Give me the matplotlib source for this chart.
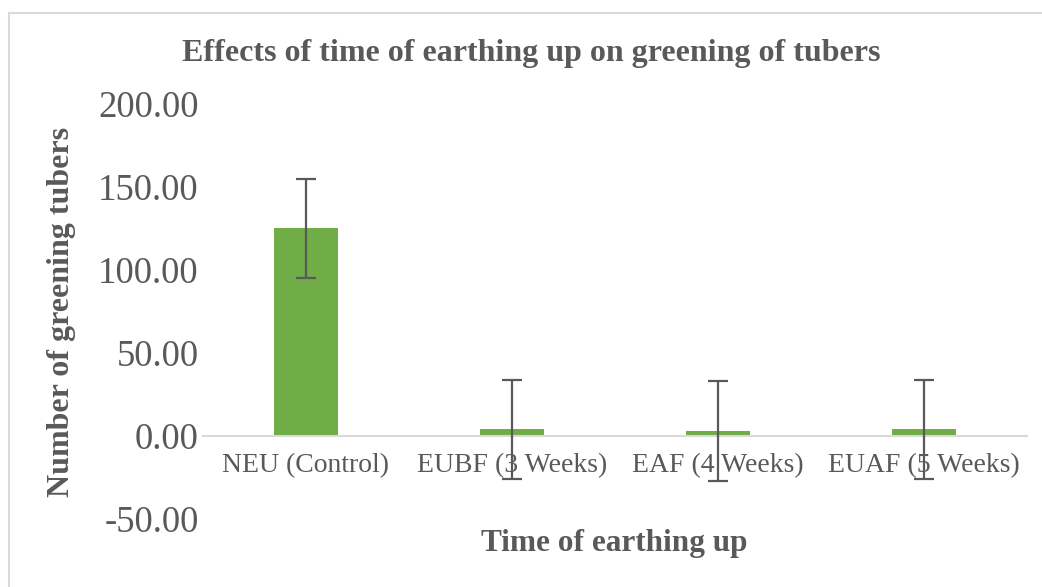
import numpy as np
import matplotlib
matplotlib.use('Agg')
import matplotlib.pyplot as plt
from matplotlib.patches import Rectangle

categories = ['NEU (Control)', 'EUBF (3 Weeks)', 'EAF (4 Weeks)', 'EUAF (5 Weeks)']
means = [125.0, 4.0, 3.0, 4.0]
errors = [30.0, 30.0, 30.0, 30.0]
yticks = [-50, 0, 50, 100, 150, 200]

plt.rcParams['font.family'] = ['Liberation Serif', 'DejaVu Serif']
txt = '#595959'

fig = plt.figure(figsize=(10.42, 5.87), dpi=100)
# outer chart border (light grey)
fig.add_artist(Rectangle((9/1042, -0.05), 1.1, 1 - 13/587 + 0.05,
                         transform=fig.transFigure, fill=False,
                         edgecolor='#d9d9d9', linewidth=1.5))

ax = fig.add_axes([203/1042, 1 - 519/587, (1027-203)/1042, (519-104)/587])
x = np.arange(len(categories))
ax.bar(x, means, width=0.315, color='#70ad47', zorder=2)
ax.errorbar(x, means, yerr=errors, fmt='none', ecolor='#595959',
            elinewidth=1.6, capsize=7, capthick=1.6, zorder=4)

ax.set_xlim(-0.5, 3.5)
ax.set_ylim(-50, 200)
ax.set_yticks(yticks)
ax.set_yticklabels(['%.2f' % v for v in yticks], fontsize=26.5, color=txt)
ax.tick_params(axis='y', length=0, pad=3)

ax.spines['bottom'].set_position(('data', 0))
ax.spines['bottom'].set_color('#d9d9d9')
ax.spines['bottom'].set_linewidth(1.5)
for s in ['top', 'right', 'left']:
    ax.spines[s].set_visible(False)
ax.set_xticks(x)
ax.set_xticklabels(categories, fontsize=20, color=txt)
ax.tick_params(axis='x', length=0, pad=12)

fig.text(531/1042, 1 - 53/587, 'Effects of time of earthing up on greening of tubers',
         ha='center', va='center', fontsize=23, fontweight='bold', color=txt)
fig.text(614/1042, 1 - 543/587, 'Time of earthing up', ha='center', va='center',
         fontsize=22.5, fontweight='bold', color=txt)
fig.text(62/1042, 1 - 312/587, 'Number of greening tubers', ha='center', va='center',
         rotation=90, fontsize=23, fontweight='bold', color=txt)

fig.savefig('out.png', dpi=100)
